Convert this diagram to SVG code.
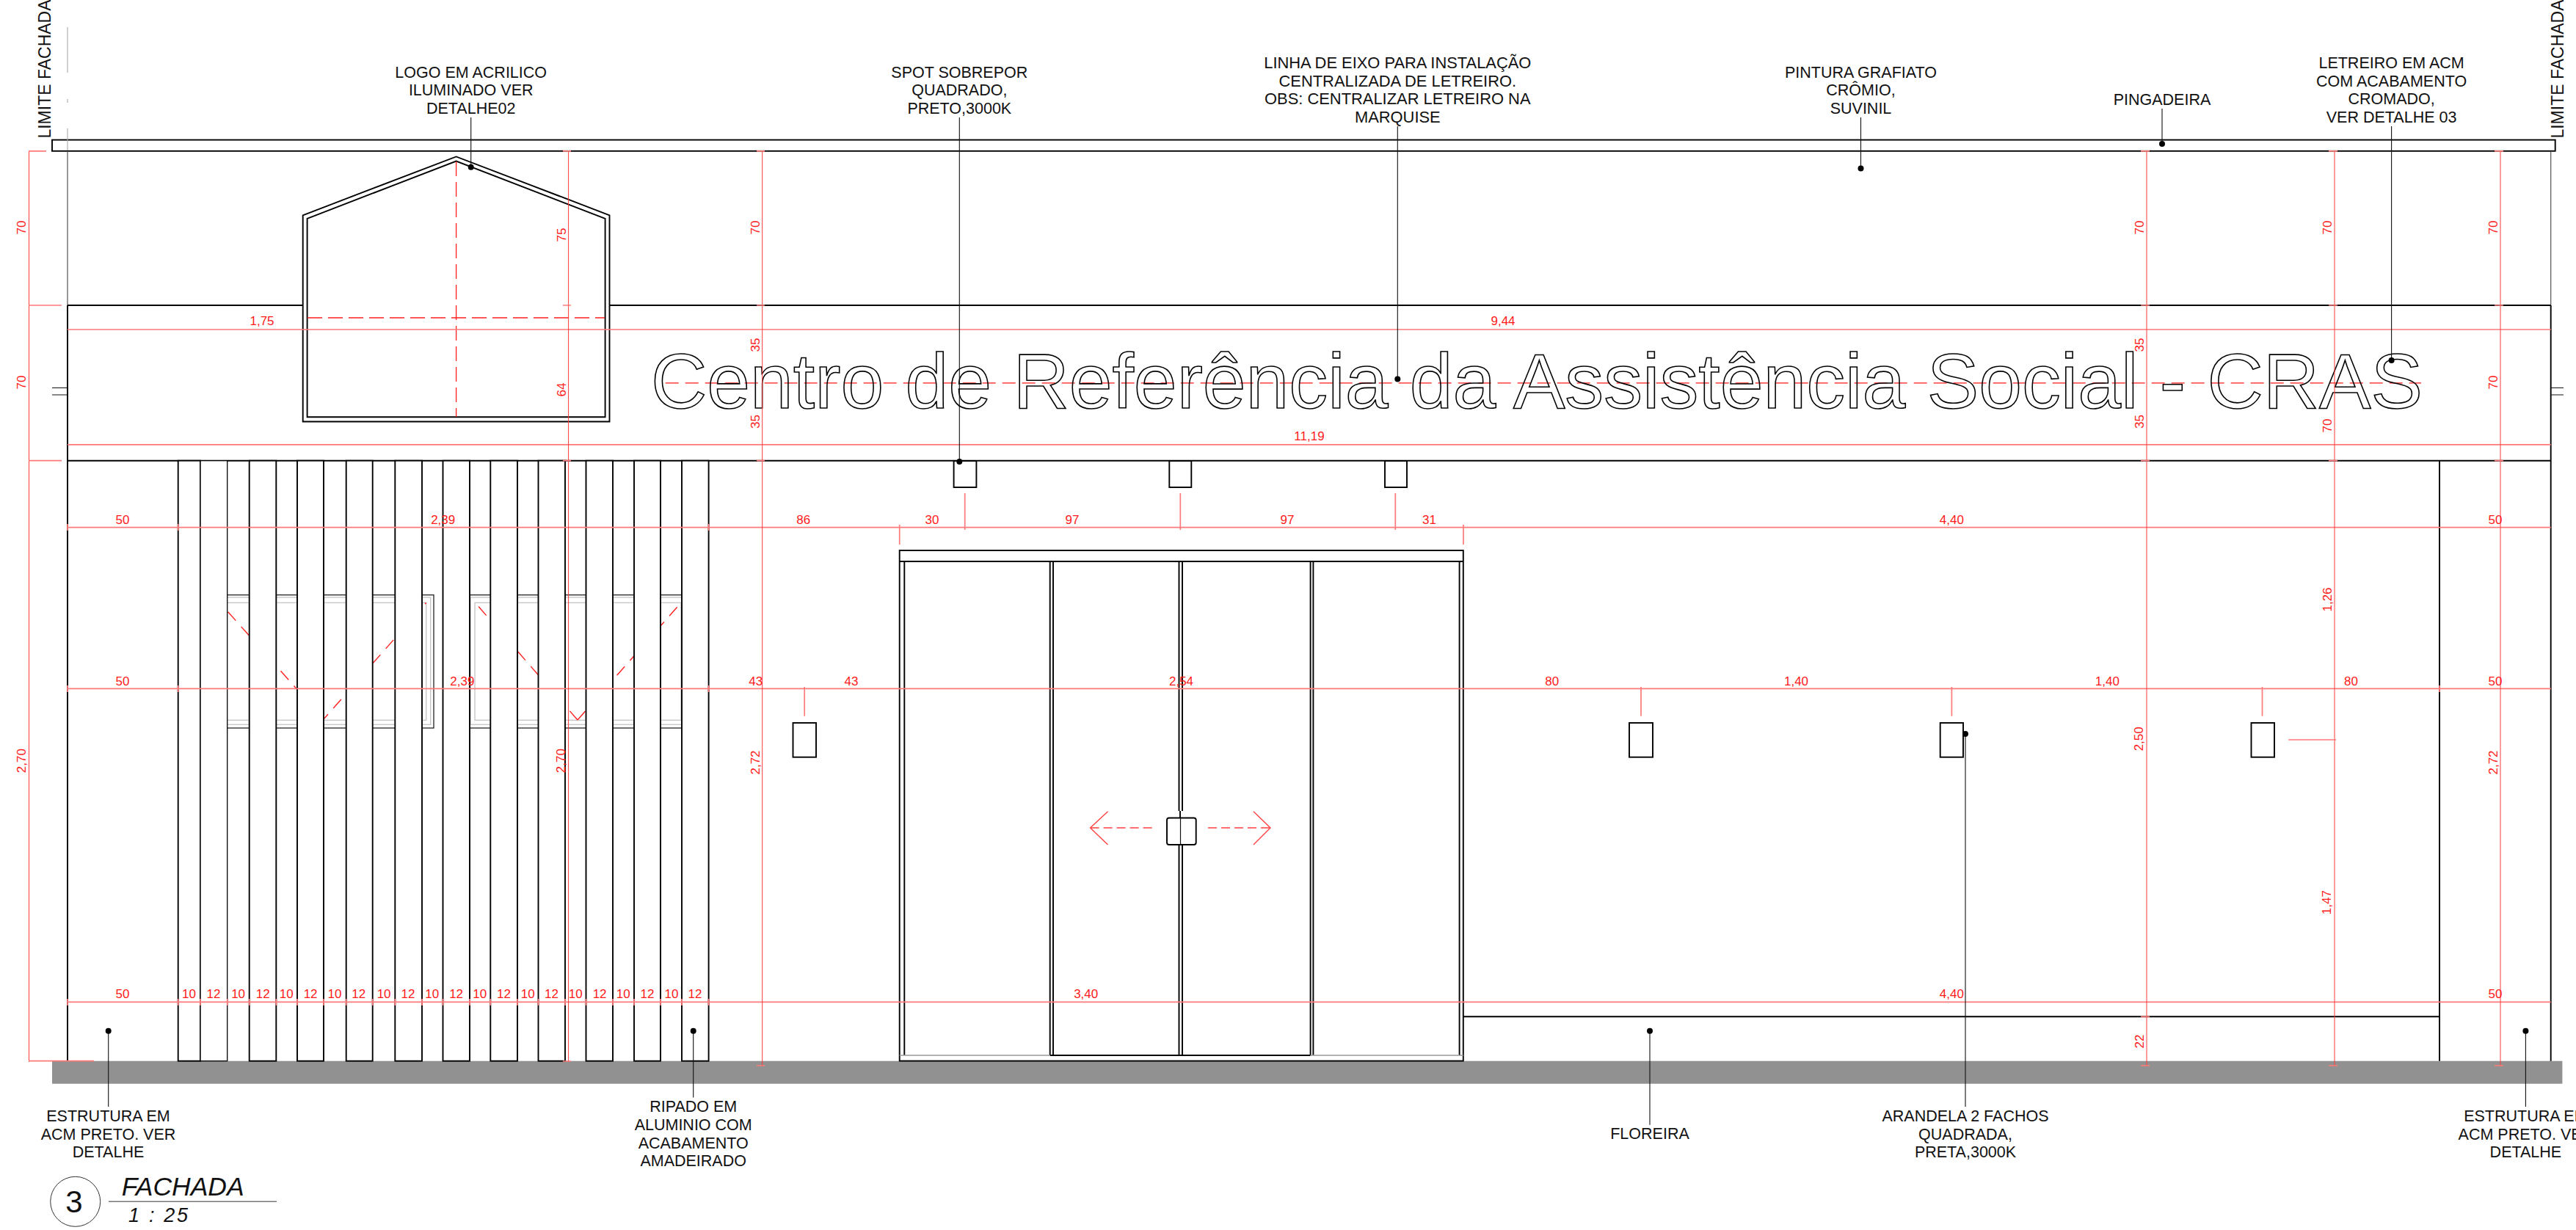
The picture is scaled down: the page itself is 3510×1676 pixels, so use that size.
<svg xmlns="http://www.w3.org/2000/svg" width="3510" height="1676" viewBox="0 0 3510 1676">
<style>
text{font-family:"Liberation Sans",Arial,sans-serif}
.k{stroke:#000;stroke-width:1.9;fill:none}
.kw{stroke:#000;stroke-width:1.9;fill:#fff}
.t{stroke:#111;stroke-width:1.2;fill:none}
.g{stroke:#c8c8c8;stroke-width:1.4;fill:none}
.h{stroke:#ff7a7a;stroke-width:1.7;fill:none}
.v{stroke:#ff3a3a;stroke-width:1;fill:none}
.d{stroke:#ff4040;stroke-width:1.4;fill:none;stroke-dasharray:16 11}
.dv{stroke:#ff1f1f;stroke-width:1.3;fill:none;stroke-dasharray:20 8}
.l{stroke:#111;stroke-width:1.1;fill:none}
.dot{fill:#000}
.n{font-size:21.5px;fill:#111;text-anchor:middle}
.r{font-size:17px;fill:#ff1a1a;text-anchor:middle}
</style>
<rect width="3510" height="1676" fill="#fff"/>
<g id="piso"><rect x="71" y="1445.7" width="3420.4" height="31" fill="#919191"/></g>
<g id="fachada">
<rect class="k" x="71" y="190.6" width="3410.7" height="15.2"/>
<path d="M92 37V99M92 135V140M92 175V205" style="stroke:#aaa;stroke-width:1.1;fill:none"/>
<path d="M92 206V416M3475.7 206V416" style="stroke:#555;stroke-width:1.2;fill:none"/>
<path class="k" d="M92 416V1445.7M3475.7 416V1445.7M92 416H412.7M830.5 416H3475.7M92 627.7H3475.7M3324 627.7V1445.7M1994 1385.3H3324"/>
<path class="t" d="M71 528.5H92M71 538H92M3475.7 528.5H3493M3475.7 538H3493"/>
</g>
<g id="janelas">
<rect class="t" x="296" y="810.7" width="295" height="181.3"/>
<rect class="g" x="300.3" y="814" width="286.4" height="173.3"/>
<rect class="g" x="302" y="821.3" width="278.7" height="160"/>
<rect class="t" x="636.7" y="810.7" width="301" height="181.3"/>
<rect class="g" x="641" y="814" width="293" height="173.3"/>
<rect class="g" x="647" y="821.3" width="281" height="160"/>
<path class="d" d="M302 824L441 980L580.7 821.3" style="stroke:#ff1f1f;stroke-dashoffset:-13"/>
<path class="d" d="M647.5 821.3L787 981" style="stroke:#ff1f1f;stroke-dashoffset:-7"/>
<path class="d" d="M787 981L928 821.3" style="stroke:#ff1f1f"/>
</g>
<g id="ripado">
<rect class="kw" x="242.7" y="627.7" width="30.3" height="818"/>
<rect class="kw" x="273" y="627.7" width="36.7" height="818" style="stroke-width:1.3"/>
<rect class="kw" x="339.7" y="627.7" width="36.6" height="818"/>
<rect class="kw" x="405" y="627.7" width="36" height="818"/>
<rect class="kw" x="471.7" y="627.7" width="36" height="818"/>
<rect class="kw" x="538.3" y="627.7" width="36.7" height="818"/>
<rect class="kw" x="603.5" y="627.7" width="36.5" height="818"/>
<rect class="kw" x="668.3" y="627.7" width="36.7" height="818"/>
<rect class="kw" x="733.5" y="627.7" width="36.5" height="818"/>
<rect class="kw" x="798.5" y="627.7" width="36.5" height="818"/>
<rect class="kw" x="864" y="627.7" width="36" height="818"/>
<rect class="kw" x="929" y="627.7" width="36.6" height="818"/>
</g>
<g id="logo">
<path class="kw" d="M412.7 574.5V293.3L621.6 213.4L830.5 293.3V574.5Z"/>
<path class="k" d="M418.6 568.3V297.8L621.6 219.6L824.6 297.8V568.3Z"/>
<path class="dv" d="M621.6 220V568M419 433H824"/>
</g>
<g id="spots">
<rect class="k" x="1299.6" y="628" width="30.8" height="36"/>
<rect class="k" x="1593.3" y="628" width="30" height="36"/>
<rect class="k" x="1887" y="628" width="30" height="36"/>
</g>
<g id="arandelas">
<rect class="k" x="1080.5" y="985" width="31.5" height="46.7"/>
<rect class="k" x="2220" y="985" width="32" height="46.7"/>
<rect class="k" x="2643.7" y="985" width="31.3" height="46.7"/>
<rect class="k" x="3067.5" y="985" width="31.5" height="46.7"/>
</g>
<g id="porta">
<rect class="k" x="1225.7" y="750" width="768.1" height="695.6"/>
<path class="k" d="M1225.7 765H1993.8M1232.3 765V1438M1430.7 765V1438M1435 765V1438M1785.6 765V1438M1789.4 765V1438M1988.6 765V1438M1606.5 765V1105M1611 765V1105M1608 1105V1114M1606.5 1151V1438M1611 1151V1438M1430.7 1438H1785.6"/>
<path class="g" d="M1225.7 1438H1430.7M1785.6 1438H1993.8" style="stroke:#999"/>
<rect class="k" x="1590" y="1114.5" width="39.7" height="36.5" rx="3"/>
<path class="t" d="M1608.5 1114.5V1151"/>
<path class="d" d="M1485.6 1128H1573M1646 1128H1731" style="stroke-dasharray:12 6"/>
<path class="d" d="M1509.5 1105.8L1485.6 1128L1509.5 1151M1708 1105.8L1731 1128L1708 1151" style="stroke-dasharray:none"/>
</g>
<g id="letreiro">
<path class="d" d="M906.7 521.9H3299" style="stroke-dasharray:18 9;stroke:#ff5a5a;stroke-width:1.7"/>
<text x="887" y="555.5" textLength="2414" lengthAdjust="spacingAndGlyphs" style="font-size:106px;fill:none;stroke:#000;stroke-width:1.6">Centro de Referência da Assistência Social - CRAS</text>
</g>
<g id="cotas">
<path class="h" d="M92 449H3475.7M92 605.8H3475.7M92 718.7H3475.7M92 938.4H3475.7M92 1365.3H3475.7"/>
<path class="v" d="M39.5 205.8V1447M774.6 205.8V1447M1038.7 205.8V1452M2925 205.8V1452M3181 205.8V1452M3407 205.8V1452"/>
<path class="h" d="M39 205.8H63M39 416H84M39 627.7H84M39 1445.7H128"/>
<path class="h" d="M767 205.8H778M767 416H778M767 627.7H778M767 1446H778M1031 205.8H1042M1031 416H1042M1031 627.7H1042M1031 1452H1042M2917 205.8H2929M2917 416H2929M2917 627.7H2929M2917 1385.3H2929M2917 1452H2929M3173 205.8H3185M3173 416H3185M3173 627.7H3185M3173 1452H3185M3399 205.8H3411M3399 416H3411M3399 627.7H3411M3399 1452H3411"/>
<path class="h" d="M1225.7 715V742M1994 715V742M1314.7 672V722M1608.3 672V722M1901.3 672V722M1096.2 936V975.7M2236 936V975.7M2659.4 936V975.7M3082.5 936V975.7M3118.3 1008H3183"/>
<path class="h" d="M92 714V723M242.7 714V723M965.6 714V723M92 934V943M242.7 934V943M965.6 934V943M3324 934V943M92 1361V1370M242.7 1361V1370M273 1361V1370M309.7 1361V1370M339.7 1361V1370M376.3 1361V1370M405 1361V1370M441 1361V1370M471.7 1361V1370M507.7 1361V1370M538.3 1361V1370M575 1361V1370M603.5 1361V1370M640 1361V1370M668.3 1361V1370M705 1361V1370M733.5 1361V1370M770 1361V1370M798.5 1361V1370M835 1361V1370M864 1361V1370M900 1361V1370M929 1361V1370M965.6 1361V1370"/>
<g>
<text class="r" x="167" y="713.7">50</text><text class="r" x="603.7" y="713.7">2,39</text><text class="r" x="1094.7" y="713.7">86</text><text class="r" x="1270" y="713.7">30</text><text class="r" x="1461" y="713.7">97</text><text class="r" x="1754" y="713.7">97</text><text class="r" x="1947.5" y="713.7">31</text><text class="r" x="2659.4" y="713.7">4,40</text><text class="r" x="3400" y="713.7">50</text>
<text class="r" x="167" y="934">50</text><text class="r" x="629.8" y="934">2,39</text><text class="r" x="1029.8" y="934">43</text><text class="r" x="1160" y="934">43</text><text class="r" x="1609.5" y="934">2,54</text><text class="r" x="2114.7" y="934">80</text><text class="r" x="2447.5" y="934">1,40</text><text class="r" x="2871.3" y="934">1,40</text><text class="r" x="3203.4" y="934">80</text><text class="r" x="3400" y="934">50</text>
<text class="r" x="167" y="1359.7">50</text><text class="r" x="1479.7" y="1359.7">3,40</text><text class="r" x="2659.4" y="1359.7">4,40</text><text class="r" x="3400" y="1359.7">50</text>
<text class="r" x="257.4" y="1359.7">10</text><text class="r" x="291" y="1359.7">12</text><text class="r" x="324.6" y="1359.7">10</text><text class="r" x="358.2" y="1359.7">12</text><text class="r" x="390.3" y="1359.7">10</text><text class="r" x="423.1" y="1359.7">12</text><text class="r" x="455.9" y="1359.7">10</text><text class="r" x="488.8" y="1359.7">12</text><text class="r" x="523.1" y="1359.7">10</text><text class="r" x="555.9" y="1359.7">12</text><text class="r" x="588.8" y="1359.7">10</text><text class="r" x="621.6" y="1359.7">12</text><text class="r" x="653.7" y="1359.7">10</text><text class="r" x="686.5" y="1359.7">12</text><text class="r" x="719.3" y="1359.7">10</text><text class="r" x="751.4" y="1359.7">12</text><text class="r" x="784.3" y="1359.7">10</text><text class="r" x="817.1" y="1359.7">12</text><text class="r" x="849.2" y="1359.7">10</text><text class="r" x="882" y="1359.7">12</text><text class="r" x="914.9" y="1359.7">10</text><text class="r" x="947" y="1359.7">12</text>
<text class="r" x="357" y="443">1,75</text><text class="r" x="2048" y="443">9,44</text><text class="r" x="1784" y="600">11,19</text>
<text class="r" transform="rotate(-90 35 310)" x="35" y="310">70</text>
<text class="r" transform="rotate(-90 35 521)" x="35" y="521">70</text>
<text class="r" transform="rotate(-90 35 1036.7)" x="35" y="1036.7">2,70</text>
<text class="r" transform="rotate(-90 770.5 320)" x="770.5" y="320">75</text>
<text class="r" transform="rotate(-90 770.5 531)" x="770.5" y="531">64</text>
<text class="r" transform="rotate(-90 770.5 1036.7)" x="770.5" y="1036.7">2,70</text>
<text class="r" transform="rotate(-90 1034.5 310)" x="1034.5" y="310">70</text>
<text class="r" transform="rotate(-90 1034.5 470)" x="1034.5" y="470">35</text>
<text class="r" transform="rotate(-90 1034.5 574.5)" x="1034.5" y="574.5">35</text>
<text class="r" transform="rotate(-90 1034.5 1039)" x="1034.5" y="1039">2,72</text>
<text class="r" transform="rotate(-90 2920.5 310)" x="2920.5" y="310">70</text>
<text class="r" transform="rotate(-90 2920.5 470)" x="2920.5" y="470">35</text>
<text class="r" transform="rotate(-90 2920.5 574.5)" x="2920.5" y="574.5">35</text>
<text class="r" transform="rotate(-90 2920.5 1006.8)" x="2920.5" y="1006.8">2,50</text>
<text class="r" transform="rotate(-90 2920.5 1419)" x="2920.5" y="1419">22</text>
<text class="r" transform="rotate(-90 3176.5 310)" x="3176.5" y="310">70</text>
<text class="r" transform="rotate(-90 3176.5 580)" x="3176.5" y="580">70</text>
<text class="r" transform="rotate(-90 3176.5 817)" x="3176.5" y="817">1,26</text>
<text class="r" transform="rotate(-90 3176.5 1229.7)" x="3176.5" y="1229.7">1,47</text>
<text class="r" transform="rotate(-90 3403 310)" x="3403" y="310">70</text>
<text class="r" transform="rotate(-90 3403 521)" x="3403" y="521">70</text>
<text class="r" transform="rotate(-90 3403 1039)" x="3403" y="1039">2,72</text>
</g>
</g>
<g id="conectores">
<path class="l" d="M641.7 160V227.7M1307.3 160V629M1904.3 172V516.5M2535.5 160V229.5M2946 148V196M3258.6 172V491M147.7 1404.7V1508M944.7 1404.7V1495.4M2248 1404.7V1532.8M2678 1000V1508M3441.4 1404.7V1508"/>
<circle class="dot" cx="641.7" cy="227.7" r="4"/><circle class="dot" cx="1307.3" cy="629" r="4"/><circle class="dot" cx="1904.3" cy="516.5" r="4"/><circle class="dot" cx="2535.5" cy="229.5" r="4"/><circle class="dot" cx="2946" cy="196" r="4"/><circle class="dot" cx="3258.6" cy="491" r="4"/><circle class="dot" cx="147.7" cy="1404.7" r="4"/><circle class="dot" cx="944.7" cy="1404.7" r="4"/><circle class="dot" cx="2248" cy="1404.7" r="4"/><circle class="dot" cx="2678" cy="1000" r="4"/><circle class="dot" cx="3441.4" cy="1404.7" r="4"/>
</g>
<g id="nota-logo"><text class="n" x="641.7" y="105.8">LOGO EM ACRILICO</text><text class="n" x="641.7" y="130">ILUMINADO VER</text><text class="n" x="641.7" y="155">DETALHE02</text></g>
<g id="nota-spot"><text class="n" x="1307.3" y="105.8">SPOT SOBREPOR</text><text class="n" x="1307.3" y="130">QUADRADO,</text><text class="n" x="1307.3" y="155">PRETO,3000K</text></g>
<g id="nota-eixo"><text class="n" style="font-size:21.9px" x="1904.3" y="93">LINHA DE EIXO PARA INSTALAÇÃO</text><text class="n" style="font-size:21.9px" x="1904.3" y="118">CENTRALIZADA DE LETREIRO.</text><text class="n" style="font-size:21.9px" x="1904.3" y="142">OBS: CENTRALIZAR LETREIRO NA</text><text class="n" style="font-size:21.9px" x="1904.3" y="167">MARQUISE</text></g>
<g id="nota-pintura"><text class="n" x="2535.5" y="105.8">PINTURA GRAFIATO</text><text class="n" x="2535.5" y="130">CRÔMIO,</text><text class="n" x="2535.5" y="155">SUVINIL</text></g>
<g id="nota-pingadeira"><text class="n" x="2946" y="143">PINGADEIRA</text></g>
<g id="nota-letreiro"><text class="n" x="3258.6" y="93">LETREIRO EM ACM</text><text class="n" x="3258.6" y="118">COM ACABAMENTO</text><text class="n" x="3258.6" y="142">CROMADO,</text><text class="n" x="3258.6" y="167">VER DETALHE 03</text></g>
<g id="nota-estrutura-e"><text class="n" x="147.5" y="1528.3">ESTRUTURA EM</text><text class="n" x="147.5" y="1552.7">ACM PRETO. VER</text><text class="n" x="147.5" y="1577">DETALHE</text></g>
<g id="nota-ripado"><text class="n" x="944.7" y="1515">RIPADO EM</text><text class="n" x="944.7" y="1540">ALUMINIO COM</text><text class="n" x="944.7" y="1564.5">ACABAMENTO</text><text class="n" x="944.7" y="1588.8">AMADEIRADO</text></g>
<g id="nota-floreira"><text class="n" x="2248" y="1551.5">FLOREIRA</text></g>
<g id="nota-arandela"><text class="n" x="2678" y="1528.3">ARANDELA 2 FACHOS</text><text class="n" x="2678" y="1552.7">QUADRADA,</text><text class="n" x="2678" y="1577">PRETA,3000K</text></g>
<g id="nota-estrutura-d"><text class="n" x="3441.4" y="1528.3">ESTRUTURA EM</text><text class="n" x="3441.4" y="1552.7">ACM PRETO. VER</text><text class="n" x="3441.4" y="1577">DETALHE</text></g>
<g id="limites">
<text transform="rotate(-90 69.4 94)" x="69.4" y="94" text-anchor="middle" style="font-size:23px;fill:#111">LIMITE FACHADA</text>
<text transform="rotate(-90 3493 94)" x="3493" y="94" text-anchor="middle" style="font-size:23px;fill:#111">LIMITE FACHADA</text>
</g>
<g id="titulo">
<circle cx="102.7" cy="1637.3" r="34" fill="none" stroke="#333" stroke-width="1"/>
<text x="101" y="1652" text-anchor="middle" style="font-size:42px;fill:#111">3</text>
<text x="165.7" y="1629" style="font-size:35.5px;font-style:italic;fill:#111">FACHADA</text>
<path d="M148 1637.3H377" stroke="#777" stroke-width="1.5" fill="none"/>
<text x="175" y="1665" textLength="81" style="font-size:27px;font-style:italic;fill:#111">1 : 25</text>
</g>
</svg>
